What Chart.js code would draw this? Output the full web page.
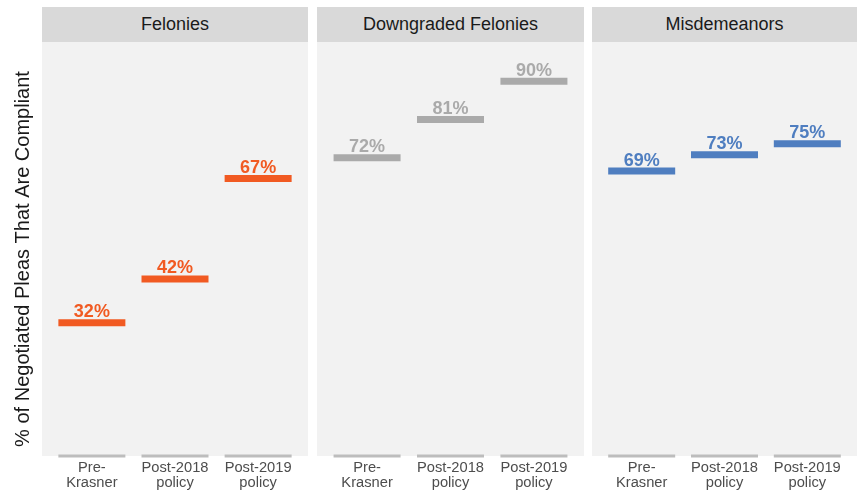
<!DOCTYPE html>
<html lang="en">
<head>
<meta charset="UTF-8">
<title>Compliant negotiated pleas</title>
<script src="https://cdn.jsdelivr.net/npm/chart.js"></script>
<style>
    * { margin: 0; padding: 0; box-sizing: border-box; }
    body {
        width: 857px;
        height: 493px;
        overflow: hidden;
        position: relative;
        background: white;
        font-family: 'Liberation Sans', Arial, sans-serif;
    }
    .strip {
        position: absolute;
        top: 7px;
        height: 35px;
        line-height: 35px;
        background: #d9d9d9;
        color: #1a1a1a;
        font-size: 18px;
        text-align: center;
    }
    .panel {
        position: absolute;
        top: 42px;
        height: 451px;
    }
</style>
</head>
<body>
    <div class="strip" style="left:42px;width:266px">Felonies</div>
    <div class="strip" style="left:317px;width:267px">Downgraded Felonies</div>
    <div class="strip" style="left:592px;width:265px">Misdemeanors</div>

    <div class="panel" style="left:0;width:308px"><canvas id="c0"></canvas></div>
    <div class="panel" style="left:317px;width:267px"><canvas id="c1"></canvas></div>
    <div class="panel" style="left:592px;width:265px"><canvas id="c2"></canvas></div>

<script>
// data
const categories = [['Pre-', 'Krasner'], ['Post-2018', 'policy'], ['Post-2019', 'policy']];
const panelNames = ['Felonies', 'Downgraded Felonies', 'Misdemeanors'];

const felonies = [32, 42.5, 66.6];
const downgraded = [71.6, 80.8, 90];
const misdemeanors = [68.4, 72.3, 75];

const feloniesLabels = ['32%', '42%', '67%'];
const downgradedLabels = ['72%', '81%', '90%'];
const misdemeanorsLabels = ['69%', '73%', '75%'];

const baseline = [0, 0, 0];

const panelColors = ['#f15a22', '#aaaaaa', '#4f7ec0'];
const yTitle = '% of Negotiated Pleas That Are Compliant';

const series = [felonies, downgraded, misdemeanors];
const seriesLabels = [feloniesLabels, downgradedLabels, misdemeanorsLabels];

// grey panel background
const panelBg = {
    id: 'panelBg',
    beforeDraw(chart) {
        const a = chart.chartArea;
        const ctx = chart.ctx;
        ctx.save();
        ctx.fillStyle = '#f2f2f2';
        ctx.fillRect(a.left, a.top, a.right - a.left, a.bottom - a.top);
        ctx.restore();
    }
};

// value labels above each segment
const valueLabels = {
    id: 'valueLabels',
    afterDatasetsDraw(chart, args, opts) {
        const ctx = chart.ctx;
        const meta = chart.getDatasetMeta(1);
        ctx.save();
        ctx.font = 'bold 18px "Liberation Sans", Arial, sans-serif';
        ctx.fillStyle = opts.color;
        ctx.textAlign = 'center';
        ctx.textBaseline = 'alphabetic';
        meta.data.forEach((pt, i) => {
            ctx.fillText(opts.labels[i], pt.x, pt.y - 5.5);
        });
        ctx.restore();
    }
};

// y title, sits a little below the middle of the panel like the original
const yTitlePlugin = {
    id: 'yTitle',
    afterDraw(chart, args, opts) {
        if (!opts.text) return;
        const ctx = chart.ctx;
        const a = chart.chartArea;
        ctx.save();
        ctx.translate(23, (a.top + a.bottom) / 2 + 10);
        ctx.rotate(-Math.PI / 2);
        ctx.font = '20px "Liberation Sans", Arial, sans-serif';
        ctx.fillStyle = '#1a1a1a';
        ctx.textAlign = 'center';
        ctx.textBaseline = 'middle';
        ctx.fillText(opts.text, 0, 0);
        ctx.restore();
    }
};

function makeChart(idx) {
    const color = panelColors[idx];
    const first = idx === 0;
    return new Chart(document.getElementById('c' + idx), {
        type: 'scatter',
        data: {
            datasets: [{
                label: 'base',
                data: baseline.map((v, i) => ({ x: i, y: v })),
                pointStyle: 'line',
                pointRadius: 33.5,
                pointBorderWidth: 3,
                pointBorderColor: '#bdbdbd',
                clip: false
            }, {
                label: panelNames[idx],
                data: series[idx].map((v, i) => ({ x: i, y: v })),
                pointStyle: 'line',
                pointRadius: 33.5,
                pointBorderWidth: 7,
                pointBorderColor: color
            }]
        },
        options: {
            responsive: true,
            maintainAspectRatio: false,
            animation: false,
            events: [],
            layout: { padding: { left: first ? 42 : 0 }, autoPadding: false },
            plugins: {
                legend: { display: false },
                tooltip: { enabled: false },
                valueLabels: { color: color, labels: seriesLabels[idx] },
                yTitle: { text: first ? yTitle : '' }
            },
            scales: {
                x: {
                    type: 'linear',
                    min: -0.6,
                    max: 2.6,
                    grid: { display: false, drawTicks: false },
                    border: { display: false },
                    afterBuildTicks: s => { s.ticks = [0, 1, 2].map(v => ({ value: v })); },
                    afterFit: s => { s.height = 37; },
                    ticks: {
                        padding: 4,
                        color: '#4d4d4d',
                        font: { family: '"Liberation Sans", Arial, sans-serif', size: 14.7, lineHeight: 1.05 },
                        maxRotation: 0,
                        callback: v => categories[v]
                    }
                },
                y: {
                    display: false,
                    min: 0,
                    max: 99.4
                }
            }
        },
        plugins: [panelBg, valueLabels, yTitlePlugin]
    });
}

[0, 1, 2].forEach(makeChart);
</script>
</body>
</html>
